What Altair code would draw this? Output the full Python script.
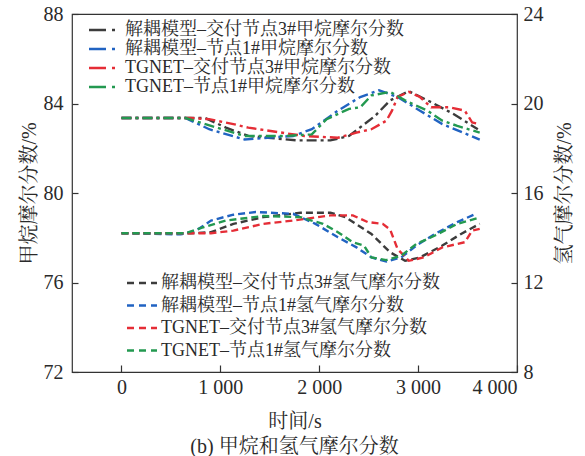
import altair as alt
import pandas as pd

FONT = "Liberation Serif, Noto Serif CJK SC, Noto Sans CJK SC"

# Series names (legend entries)
ch4_names = [
    "解耦模型–交付节点3#甲烷摩尔分数",
    "解耦模型–节点1#甲烷摩尔分数",
    "TGNET–交付节点3#甲烷摩尔分数",
    "TGNET–节点1#甲烷摩尔分数",
]
h2_names = [
    "解耦模型–交付节点3#氢气摩尔分数",
    "解耦模型–节点1#氢气摩尔分数",
    "TGNET–交付节点3#氢气摩尔分数",
    "TGNET–节点1#氢气摩尔分数",
]
colors = ["#3c3c3c", "#2163c2", "#e52d36", "#239950"]

# Axis tick values
x_ticks = [0, 1000, 2000, 3000, 4000]
left_ticks = [72, 76, 80, 84, 88]
right_ticks = [8, 12, 16, 20, 24]

# Methane mole fraction (%) — time (s) and value per series
ch4_dec_n3_t = [0, 600, 849, 1057, 1283, 1774, 2113, 2302, 2566, 2717, 2906, 3132, 3358, 3604]
ch4_dec_n3_v = [83.35, 83.35, 83.35, 82.92, 82.55, 82.35, 82.35, 82.55, 83.45, 84.14, 84.55, 84.06, 83.53, 82.85]

ch4_dec_n1_t = [0, 650, 887, 1245, 1736, 1925, 2189, 2415, 2604, 2792, 3019, 3245, 3623]
ch4_dec_n1_v = [83.35, 83.35, 82.85, 82.39, 82.55, 82.85, 83.68, 84.29, 84.59, 84.29, 83.68, 83.08, 82.39]

ch4_tg_n3_t = [0, 700, 887, 1132, 1283, 1509, 1849, 2189, 2377, 2528, 2679, 2736, 2792, 2906, 3019, 3132, 3321, 3472, 3547, 3623]
ch4_tg_n3_v = [83.35, 83.35, 83.3, 83.08, 82.92, 82.77, 82.55, 82.47, 82.7, 82.85, 83.23, 83.68, 84.29, 84.52, 84.29, 83.83, 83.83, 83.68, 83.15, 83.08]

ch4_tg_n1_t = [0, 650, 906, 1245, 1660, 1925, 2075, 2302, 2415, 2528, 2717, 2868, 3094, 3245, 3396, 3623]
ch4_tg_n1_v = [83.35, 83.35, 83.0, 82.55, 82.55, 82.62, 83.3, 83.76, 83.83, 84.36, 84.52, 84.14, 83.68, 83.23, 83.0, 82.7]

# Hydrogen mole fraction (%)
h2_dec_n3_t = [0, 700, 906, 1132, 1434, 1811, 2113, 2264, 2528, 2717, 2868, 3019, 3245, 3434, 3623]
h2_dec_n3_v = [14.2, 14.2, 14.25, 14.62, 14.92, 15.12, 15.12, 14.92, 14.17, 13.35, 12.97, 13.12, 13.65, 14.17, 14.62]

h2_dec_n1_t = [0, 600, 755, 906, 1132, 1358, 1736, 1962, 2189, 2377, 2528, 2679, 2830, 2981, 3170, 3396, 3585]
h2_dec_n1_v = [14.2, 14.15, 14.32, 14.77, 15.03, 15.15, 15.07, 14.62, 14.02, 13.57, 13.12, 12.94, 13.12, 13.65, 14.17, 14.7, 15.07]

h2_tg_n3_t = [0, 700, 906, 1132, 1434, 1736, 2113, 2340, 2491, 2642, 2717, 2792, 2906, 3057, 3245, 3472, 3547, 3623]
h2_tg_n3_v = [14.2, 14.2, 14.2, 14.32, 14.62, 14.77, 15.0, 15.0, 14.7, 14.62, 14.37, 13.5, 12.97, 13.12, 13.57, 13.8, 14.32, 14.4]

h2_tg_n1_t = [0, 650, 830, 1057, 1434, 1811, 2038, 2189, 2340, 2453, 2528, 2679, 2830, 2981, 3170, 3396, 3604]
h2_tg_n1_v = [14.2, 14.2, 14.47, 14.77, 14.97, 14.92, 14.62, 14.25, 13.8, 13.65, 13.12, 13.0, 13.2, 13.72, 14.1, 14.62, 14.88]


def long_table(names, series):
    rows = []
    for name, (ts, vs) in zip(names, series):
        for t, v in zip(ts, vs):
            rows.append({"series": name, "t": t, "v": v})
    return pd.DataFrame(rows)


df_ch4 = long_table(ch4_names, [
    (ch4_dec_n3_t, ch4_dec_n3_v), (ch4_dec_n1_t, ch4_dec_n1_v),
    (ch4_tg_n3_t, ch4_tg_n3_v), (ch4_tg_n1_t, ch4_tg_n1_v),
])
df_h2 = long_table(h2_names, [
    (h2_dec_n3_t, h2_dec_n3_v), (h2_dec_n1_t, h2_dec_n1_v),
    (h2_tg_n3_t, h2_tg_n3_v), (h2_tg_n1_t, h2_tg_n1_v),
])

x_enc = alt.X(
    "t:Q",
    scale=alt.Scale(domain=[-500, 4000], nice=False, zero=False),
    axis=alt.Axis(
        values=x_ticks, title="时间/s", grid=False, domain=False,
        offset=-7, tickSize=7, labelPadding=5, titlePadding=14,
        labelExpr="replace(format(datum.value, ','), ',', ' ')",
    ),
)

# Wide horizontal legend glyph: a 30px line drawn with a small symbol size,
# so that the row height follows the label font rather than the glyph length.
GLYPH = "M-2.5,0H2.5"

legend_common = dict(
    title=None, orient="none", symbolType=GLYPH, symbolSize=144,
    symbolStrokeWidth=2.6, symbolFillColor="transparent",
    labelFont=FONT, labelFontSize=18, labelColor="#2a2a2a", labelLimit=500,
    padding=0,
)

ch4 = alt.Chart(df_ch4).mark_line(strokeDash=[10, 4, 3, 4], strokeWidth=2.4).encode(
    x=x_enc,
    y=alt.Y(
        "v:Q",
        scale=alt.Scale(domain=[72, 88], nice=False, zero=False),
        axis=alt.Axis(
            values=left_ticks, orient="left", title="甲烷摩尔分数/%", grid=False,
            domain=False, offset=-6, tickSize=6, labelPadding=9, titlePadding=4,
        ),
    ),
    color=alt.Color(
        "series:N",
        scale=alt.Scale(domain=ch4_names, range=colors),
        legend=alt.Legend(
            legendX=23, legendY=7, symbolDash=[17, 6, 3, 10],
            rowPadding=1, labelOffset=12, **legend_common,
        ),
    ),
)

h2 = alt.Chart(df_h2).mark_line(strokeDash=[7, 4], strokeWidth=2.4).encode(
    x=x_enc,
    y=alt.Y(
        "v:Q",
        scale=alt.Scale(domain=[8, 24], nice=False, zero=False),
        axis=alt.Axis(
            values=right_ticks, orient="right", title="氢气摩尔分数/%", grid=False,
            domain=False, offset=-6, tickSize=6, labelPadding=6, titlePadding=31,
            titleAngle=270,
        ),
    ),
    color=alt.Color(
        "series:N",
        scale=alt.Scale(domain=h2_names, range=colors),
        legend=alt.Legend(
            legendX=61, legendY=260, symbolDash=[7, 5],
            rowPadding=4.5, labelOffset=10, **legend_common,
        ),
    ),
)

chart = (
    alt.layer(ch4, h2)
    .resolve_scale(y="independent", color="independent")
    .properties(
        width=445,
        height=358,
        padding={"left": 72, "top": 14, "right": 68, "bottom": 84},
        autosize=alt.AutoSizeParams(type="none"),
        title=alt.TitleParams(
            "(b) 甲烷和氢气摩尔分数", orient="bottom", font=FONT, fontSize=20,
            fontWeight="normal", color="#2a2a2a", offset=6,
        ),
    )
    .configure_view(stroke="#333333", strokeWidth=1.2)
    .configure_axis(
        labelFont=FONT, labelFontSize=20, labelColor="#2a2a2a",
        titleFont=FONT, titleFontSize=20, titleFontWeight="normal", titleColor="#2a2a2a",
        tickColor="#333333", tickWidth=1.2,
    )
)

chart.save("out.html", embed_options={"renderer": "svg", "actions": False})
